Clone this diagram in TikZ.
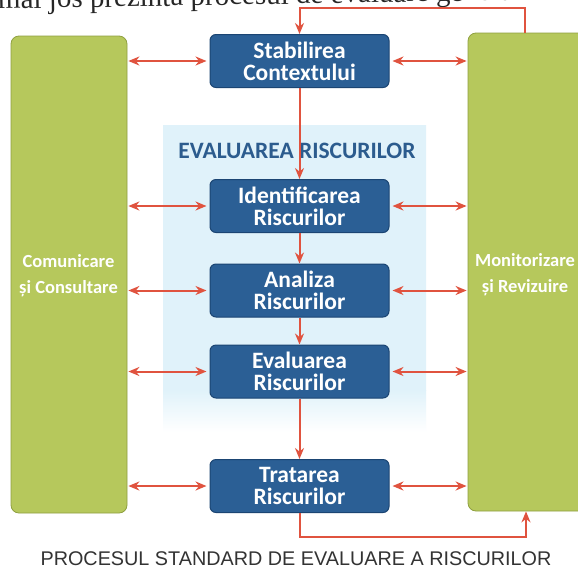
\documentclass[tikz,border=0pt]{standalone}
\usepackage{fontspec}
\setmainfont{Carlito}
\newfontfamily\serifface{Liberation Serif}
\newfontfamily\capface{Liberation Sans}
\usetikzlibrary{arrows.meta}
\definecolor{boxblue}{HTML}{2B5F95}
\definecolor{boxedge}{HTML}{1B4573}
\definecolor{leafgreen}{HTML}{B6C85C}
\definecolor{leafedge}{HTML}{8FA040}
\definecolor{arrowred}{HTML}{E0533F}
\definecolor{paleblue}{HTML}{E0F2FA}
\definecolor{titleblue}{HTML}{2C5C8E}
\tikzset{
  stepbox/.style={draw=boxedge, line width=1pt, fill=boxblue, rounded corners=6pt,
    minimum width=179pt, minimum height=53pt, inner sep=0pt, text=white,
    font=\fontsize{23.5}{22}\selectfont\bfseries, align=center},
  sidebox/.style={draw=leafedge, line width=0.8pt, fill=leafgreen, rounded corners=8pt, inner sep=0pt},
  sidetext/.style={text=white, font=\fontsize{18.5}{26}\selectfont\bfseries, align=center},
  link/.style={draw=arrowred, line width=2pt},
  tip/.style={-{Stealth[length=11pt,width=9pt]}},
  twotip/.style={{Stealth[length=11pt,width=9pt]}-{Stealth[length=11pt,width=9pt]}, shorten <=1pt, shorten >=3pt}
}
\begin{document}
\begin{tikzpicture}[x=1pt,y=-1pt]
\clip (0,0) rectangle (578,571);
\fill[white] (0,0) rectangle (578,571);
% partial text line at the top (cut off by the page edge)
\node[anchor=base west, inner sep=0pt, rotate=1.0, font=\serifface\fontsize{29}{29}\selectfont, text=black!85] (topline) at (-2,9) {mai jos prezintă procesul de evaluare generală a};
% pale background of the assessment group
\shade[top color=paleblue, bottom color=paleblue, middle color=paleblue] (163,125) rectangle (426,390);
\shade[top color=paleblue, bottom color=white] (163,390) rectangle (426,432);
\node[font=\fontsize{23.5}{23.5}\selectfont\bfseries, text=titleblue, inner sep=0pt] (grouptitle) at (297,151) {EVALUAREA RISCURILOR};
% side boxes
\node[sidebox, minimum width=116pt, minimum height=477pt] (L) at (69,274.5) {};
\node[sidetext] (Ltext) at (68.5,276) {Comunicare\\și Consultare};
\node[sidebox, minimum width=132pt, minimum height=478pt] (R) at (534,272) {};
\node[sidetext] (Rtext) at (525,274.5) {Monitorizare\\și Revizuire};
% process boxes
\node[stepbox] (S) at (299.5,61) {Stabilirea\\Contextului};
\node[stepbox] (I) at (299.5,206) {Identificarea\\Riscurilor};
\node[stepbox] (A) at (299.5,290.5) {Analiza\\Riscurilor};
\node[stepbox] (E) at (299.5,371.5) {Evaluarea\\Riscurilor};
\node[stepbox] (T) at (299.5,486) {Tratarea\\Riscurilor};
% vertical flow
\draw[link, tip] (S.south) -- (I.north);
\draw[link, tip] (I.south) -- (A.north);
\draw[link, tip] (A.south) -- (E.north);
\draw[link, tip] (E.south) -- (T.north);
% horizontal double arrows
\foreach \n in {S,I,A,E,T}{
  \draw[link, twotip] (L.east |- \n.west) -- (\n.west);
  \draw[link, twotip] (R.west |- \n.east) -- (\n.east);
}
% feedback loops
\coordinate (tr) at (525,8);
\draw[link, tip] (R.north -| tr) -- (tr) -| (S.north);
\coordinate (br) at (526,537);
\draw[link, tip] (T.south) |- (br) -- (R.south -| br);
% caption
\node[font=\capface\fontsize{19.8}{19.8}\selectfont, text=black!80, inner sep=0pt] (caption) at (296,559) {PROCESUL STANDARD DE EVALUARE A RISCURILOR};
\end{tikzpicture}
\end{document}
